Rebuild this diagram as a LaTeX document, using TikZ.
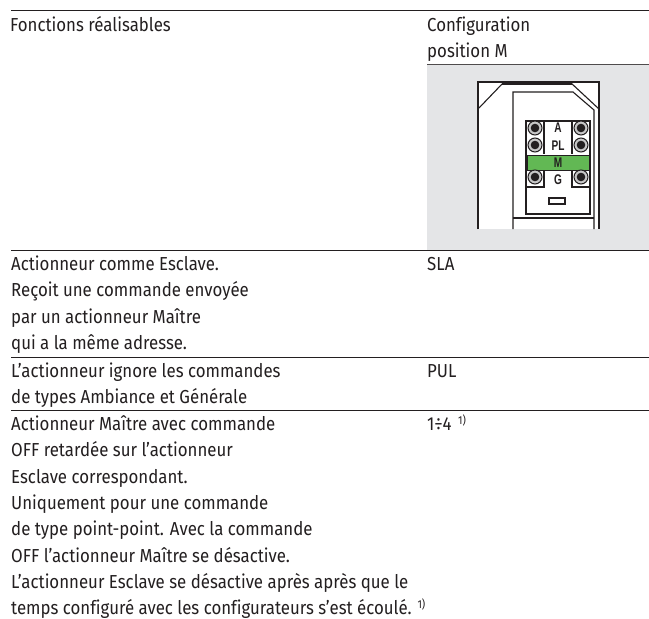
\documentclass[tikz,border=0pt]{standalone}
\usepackage{fontspec}
\setmainfont[FakeStretch=0.895,Ligatures=NoCommon]{Fira Sans}
\newfontfamily\labfont[FakeStretch=0.72]{Liberation Sans Bold}
\definecolor{panel}{RGB}{228,229,231}
\definecolor{swgreen}{RGB}{98,184,84}
\definecolor{ink}{RGB}{35,31,32}
\tikzset{
 x=1pt,y=-1pt,
 txt/.style={anchor=base west,inner sep=0pt,font=\fontsize{18.8}{26}\selectfont,text=ink},
 rulel/.style={draw=ink,line width=1pt},
 dev/.style={draw=ink,line width=1.1pt},
 hole/.style={circle,draw=ink,line width=1pt,fill=black!22,minimum size=14pt,inner sep=0pt},
 lab/.style={inner sep=0pt,font=\labfont\fontsize{14}{15}\selectfont,text=ink},
}
\newcommand{\screw}[2]{\node[hole] at (#1,#2) {}; \fill[ink] (#1,#2) circle (4.3pt);}
\newcommand{\fnm}{\raisebox{5.5pt}{\fontsize{11.5}{11.5}\selectfont 1)}}
\begin{document}
\begin{tikzpicture}
\useasboundingbox (0,0) rectangle (649,619);
\fill[white] (0,0) rectangle (649,619);
% panel
\fill[panel] (427,64) rectangle (649,250);
\fill[white] (477,81) rectangle (600,229);
% rules
\draw[rulel] (11,10) -- (649,10);
\draw[rulel,draw=ink!80] (427,64) -- (649,64);
\draw[rulel] (11,250) -- (649,250);
\draw[rulel] (11,357) -- (649,357);
\draw[rulel] (11,410) -- (649,410);
% device
\draw[dev] (478,229) -- (478,82) -- (599,82) -- (599,229);
\draw[dev] (479,108) -- (503,83);
\draw[dev] (571,83) -- (599,109);
\draw[dev] (502,84) -- (572,84);
\draw[dev] (513,229) -- (513,92) -- (573,92) -- (594,110) -- (594,229);
\draw[dev] (513,218) -- (594,218);
\draw[dev] (526,121) rectangle (590,214);
\draw[dev] (544,121) -- (544,154);
\draw[dev] (572,121) -- (572,154);
\draw[dev] (526,187) -- (544,187) -- (544,171);
\draw[dev] (590,187) -- (572,187) -- (572,171);
\fill[swgreen] (527,155) rectangle (589,170);
\draw[draw=ink,line width=0.9pt] (527,155) rectangle (589,170);
\screw{535}{128}
\screw{535}{145}
\screw{581}{128}
\screw{581}{145}
\screw{535}{177}
\screw{581}{177}
\draw[dev] (549,198) rectangle (565,204);
\node[lab] (la) at (558,128) {A};
\node[lab] (lb) at (558,146) {PL};
\node[lab] (lc) at (558,163) {M};
\node[lab] (ld) at (558,180) {G};
% text
\node[txt] (h1) at (10,31) {Fonctions réalisables};
\node[txt] (h2a) at (427,31) {Configuration};
\node[txt] (h2b) at (427,57) {position M};
\node[txt] (a1) at (11,270) {Actionneur comme Esclave.};
\node[txt] (a1b) at (11,296) {Reçoit une commande envoyée};
\node[txt] (a1c) at (11,323) {par un actionneur Maître};
\node[txt] (a1d) at (11,349) {qui a la même adresse.};
\node[txt] (a2) at (427,270) {SLA};
\node[txt] (b1) at (11,377) {L’actionneur ignore les commandes};
\node[txt] (b1b) at (11,403) {de types Ambiance et Générale};
\node[txt] (b2) at (427,377) {PUL};
\node[txt] (c1) at (11,430) {Actionneur Maître avec commande};
\node[txt] (c1b) at (11,456) {OFF retardée sur l’actionneur};
\node[txt] (c1c) at (11,483) {Esclave correspondant.};
\node[txt] (c1d) at (11,509) {Uniquement pour une commande};
\node[txt] (c1e) at (11,535) {de type point-point. Avec la commande};
\node[txt] (c1f) at (11,562) {OFF l’actionneur Maître se désactive.};
\node[txt] (c1g) at (11,588) {L’actionneur Esclave se désactive après après que le};
\node[txt] (c1h) at (11,614) {temps configuré avec les configurateurs s’est écoulé. \fnm};
\node[txt] (c2) at (427,430) {1÷4 \hspace{2pt}\fnm};
\end{tikzpicture}
\end{document}
